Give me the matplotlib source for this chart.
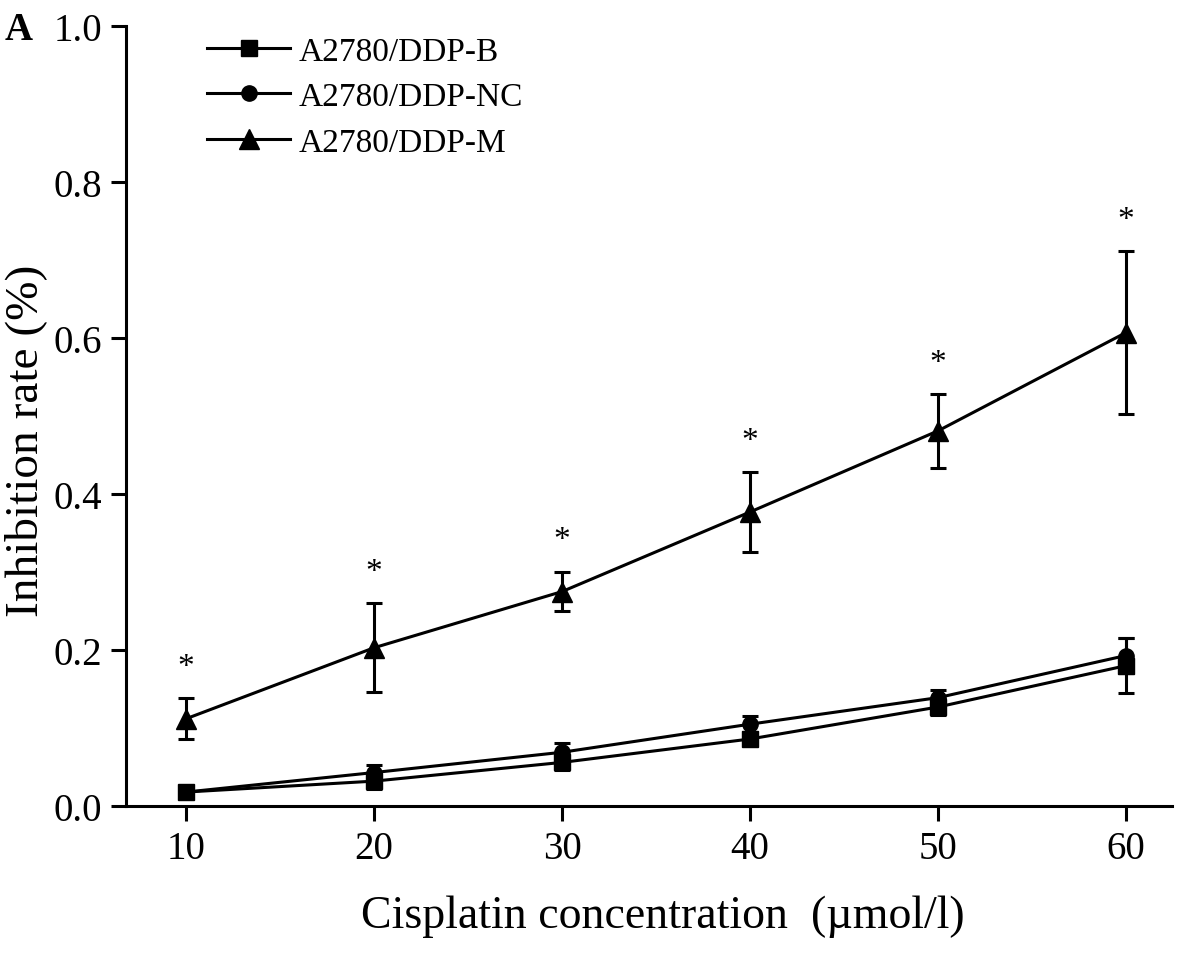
import matplotlib.pyplot as plt
from matplotlib.lines import Line2D

# Cisplatin concentration (umol/l)
conc = [10, 20, 30, 40, 50, 60]

# inhibition rate
rate_b = [0.018, 0.032, 0.056, 0.086, 0.127, 0.180]
err_b = [0.008, 0.010, 0.010, 0.008, 0.010, 0.035]
rate_nc = [0.018, 0.043, 0.069, 0.105, 0.139, 0.193]
err_nc = [0.008, 0.010, 0.012, 0.010, 0.010, 0.022]
rate_m = [0.112, 0.203, 0.275, 0.377, 0.481, 0.607]
err_m = [0.026, 0.057, 0.025, 0.051, 0.047, 0.104]

labels = ["A2780/DDP-B", "A2780/DDP-NC", "A2780/DDP-M"]

plt.rcParams['font.family'] = ['Liberation Serif', 'DejaVu Serif']

fig = plt.figure(figsize=(11.81, 9.54), dpi=100)
ax = fig.add_axes([0.1067, 0.154, 0.8857, 0.8177])

common = dict(color='black', lw=2.2, elinewidth=2.2, capsize=6, capthick=2.2)
ax.errorbar(conc, rate_b, yerr=err_b, marker='s', ms=11, **common)
ax.errorbar(conc, rate_nc, yerr=err_nc, marker='o', ms=11, **common)
ax.errorbar(conc, rate_m, yerr=err_m, marker='^', ms=15, **common)

# significance stars above the M error bars
for x, y, e in zip(conc, rate_m, err_m):
    ax.annotate('*', (x, y + e), xytext=(0, 12), textcoords='offset points',
                ha='center', va='bottom', fontsize=24)

ax.set_xlim(6.8, 62.45)
ax.set_ylim(0, 1.0)
ax.set_xticks(conc)
ax.set_yticks([0.0, 0.2, 0.4, 0.6, 0.8, 1.0])
ax.set_yticklabels(['0.0', '0.2', '0.4', '0.6', '0.8', '1.0'])

ax.spines['top'].set_visible(False)
ax.spines['right'].set_visible(False)
ax.spines['left'].set_linewidth(2.2)
ax.spines['bottom'].set_linewidth(2.2)
ax.tick_params(axis='both', direction='out', width=2.2, length=11, labelsize=28)
ax.tick_params(axis='x', pad=6)
ax.tick_params(axis='y', pad=6)

ax.set_xlabel("Cisplatin concentration  (\u00b5mol/l)", fontsize=33)
ax.xaxis.set_label_coords(0.513, -0.113)
ax.set_ylabel("Inhibition rate (%)", fontsize=34)
ax.yaxis.set_label_coords(-0.075, 0.47)

handles = [Line2D([], [], color='black', lw=2.2, marker='s', ms=11),
           Line2D([], [], color='black', lw=2.2, marker='o', ms=11),
           Line2D([], [], color='black', lw=2.2, marker='^', ms=15)]
ax.legend(handles, labels, loc='upper left', bbox_to_anchor=(0.0774, 0.987),
          frameon=False, fontsize=24, handlelength=2.5, handletextpad=0.25,
          labelspacing=0.45, borderpad=0, borderaxespad=0)

fig.text(0.004, 0.987, 'A', fontsize=28, fontweight='bold', va='top')

fig.savefig('out.png', dpi=100)
